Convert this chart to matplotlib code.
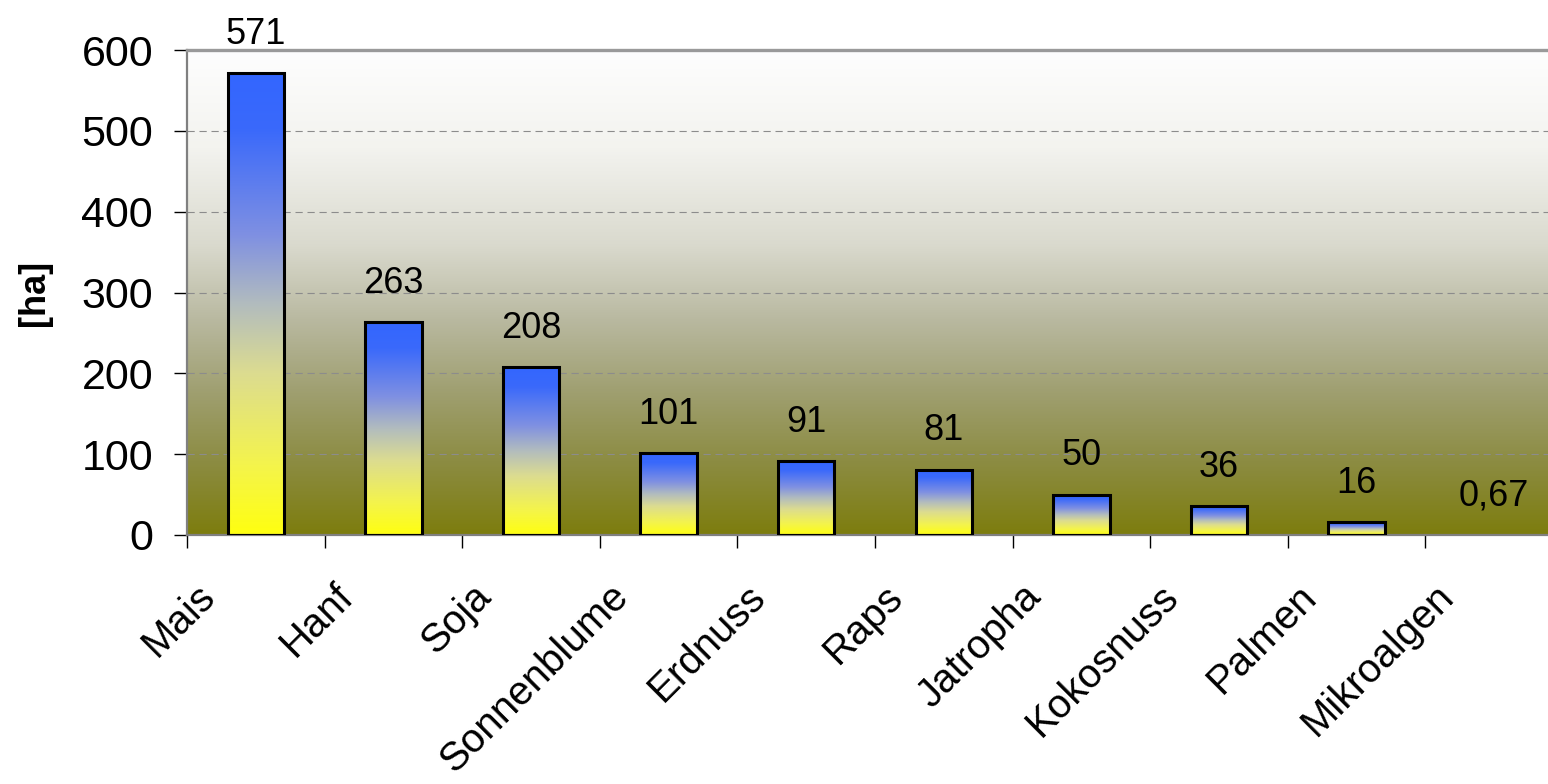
import numpy as np
import matplotlib
matplotlib.use("Agg")
from matplotlib import pyplot as plt
from matplotlib.colors import LinearSegmentedColormap
from matplotlib.transforms import ScaledTranslation

# data
crops = ['Mais', 'Hanf', 'Soja', 'Sonnenblume', 'Erdnuss', 'Raps',
         'Jatropha', 'Kokosnuss', 'Palmen', 'Mikroalgen']
area_ha = [571, 263, 208, 101, 91, 81, 50, 36, 16, 0.67]
yticks = [0, 100, 200, 300, 400, 500, 600]

plt.rcParams['font.family'] = ['Liberation Sans', 'DejaVu Sans']

bg_cmap = LinearSegmentedColormap.from_list('bg', [
    (0.00, '#fefefe'), (0.20, '#f3f3ef'), (0.40, '#dadace'),
    (0.55, '#babaa2'), (0.70, '#a0a072'), (0.85, '#8c8c42'),
    (1.00, '#7d7d0e')])
bar_cmap = LinearSegmentedColormap.from_list('bar', [
    (0.00, '#3366ff'), (0.12, '#3a69fb'), (0.35, '#7f90e2'),
    (0.50, '#b2bcbe'), (0.65, '#dcdc90'), (0.85, '#f4f44c'),
    (1.00, '#ffff10')])
grad = np.linspace(0, 1, 256).reshape(-1, 1)

fig = plt.figure(figsize=(15.48, 7.84), dpi=100)
ax = fig.add_axes([187 / 1548, 249 / 784, 1376 / 1548, 485 / 784])

x = np.arange(len(crops))
ax.imshow(grad, cmap=bg_cmap, extent=[0, 1, 0, 1], transform=ax.transAxes,
          aspect='auto', origin='upper', zorder=0)

bars = ax.bar(x, area_ha, width=0.41, facecolor='none', edgecolor='black',
              linewidth=2.2, zorder=3)
for p in bars:
    x0, w, h = p.get_x(), p.get_width(), p.get_height()
    ax.imshow(grad, cmap=bar_cmap, extent=[x0, x0 + w, 0, h],
              aspect='auto', origin='upper', zorder=2)
    if h < 2:  # hairline bar hides under the axis line
        p.set_visible(False)

for xi, v in zip(x, area_ha):
    ax.annotate(f"{v:g}".replace('.', ','), (xi, v), xytext=(0, 21),
                textcoords='offset points', ha='center', va='baseline',
                fontsize=26)

ax.set_xlim(-0.5, len(crops) - 0.5)
ax.set_ylim(yticks[0], yticks[-1])
ax.set_yticks(yticks)
ax.tick_params(axis='y', direction='out', length=9.4, width=1, color='black',
               labelsize=31, pad=15)

ax.set_xticks(np.arange(len(crops) + 1) - 0.5)
ax.set_xticklabels([])
ax.tick_params(axis='x', which='major', direction='out', length=9.4, width=1,
               color='black')
ax.set_xticks(x, minor=True)
ax.set_xticklabels(crops, minor=True, rotation=45, ha='right', va='top',
                   rotation_mode='anchor', fontsize=29)
ax.tick_params(axis='x', which='minor', length=0, pad=0)
shift = ScaledTranslation(-0.60, -0.42, fig.dpi_scale_trans)
for lab in ax.get_xticklabels(minor=True):
    lab.set_transform(lab.get_transform() + shift)

ax.set_axisbelow(True)
ax.yaxis.grid(True, color='#8c8c8c', linestyle=(0, (6.5, 4.3)), linewidth=0.8)

ax.spines['right'].set_visible(False)
ax.spines['top'].set_color('#9a9a9a')
ax.spines['top'].set_linewidth(2.4)
ax.spines['left'].set_color('#808080')
ax.spines['left'].set_linewidth(1.6)
ax.spines['bottom'].set_color('#808080')
ax.spines['bottom'].set_linewidth(1.6)

ax.set_ylabel('[ha]', fontsize=26, fontweight='bold')
ax.yaxis.set_label_coords(-0.098, 0.5)

fig.savefig('out.png', dpi=100)
